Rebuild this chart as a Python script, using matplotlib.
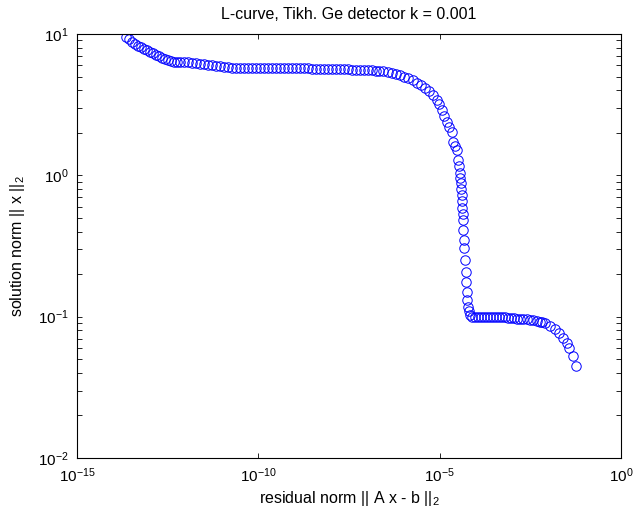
import numpy as np
import matplotlib
matplotlib.use("Agg")
import matplotlib.pyplot as plt
from matplotlib.ticker import LogLocator, NullLocator, FixedLocator

plt.rcParams['font.family'] = ['Liberation Sans', 'DejaVu Sans']
plt.rcParams['mathtext.fontset'] = 'custom'
plt.rcParams['mathtext.rm'] = 'Liberation Sans'
plt.rcParams['mathtext.it'] = 'Liberation Sans:italic'

# L-curve points (log10 of residual norm / solution norm)
log_res = [
    -13.65, -13.57, -13.48, -13.40, -13.32, -13.24, -13.15, -13.07, -12.99, -12.90,
    -12.82, -12.74, -12.66, -12.57, -12.49, -12.41, -12.33, -12.24, -12.16, -12.05,
    -11.94, -11.83, -11.72, -11.61, -11.50, -11.39, -11.28, -11.17, -11.06, -10.95,
    -10.84, -10.73,
    -10.62, -10.51, -10.40, -10.29, -10.18, -10.07, -9.96, -9.85, -9.74, -9.63,
    -9.52, -9.41, -9.30, -9.19, -9.08, -8.97, -8.86, -8.75, -8.64, -8.53,
    -8.42, -8.31, -8.20, -8.09, -7.98, -7.87, -7.76, -7.65, -7.54, -7.43,
    -7.32, -7.21, -7.10, -6.99, -6.88, -6.77, -6.66, -6.55,
    -6.43, -6.32, -6.21, -6.10, -5.98, -5.87, -5.74, -5.63, -5.52, -5.41,
    -5.30, -5.19, -5.08, -5.02, -4.95, -4.88, -4.81, -4.74, -4.67, -4.63,
    -4.58, -4.53, -4.49, -4.47, -4.44, -4.43, -4.41, -4.40, -4.39, -4.39,
    -4.39, -4.37, -4.37, -4.35, -4.33, -4.32, -4.30, -4.28, -4.27, -4.26,
    -4.24, -4.22, -4.19, -4.17, -4.11,
    -4.03, -3.94, -3.86, -3.78, -3.70, -3.61, -3.53, -3.45, -3.37, -3.28,
    -3.20, -3.12, -3.03, -2.95, -2.87, -2.79, -2.70, -2.60, -2.51, -2.43,
    -2.33, -2.24, -2.17, -2.10, -1.96, -1.82, -1.70, -1.59, -1.50, -1.43,
    -1.33, -1.24,
]
log_sol = [
    0.982, 0.968, 0.944, 0.930, 0.916, 0.905, 0.895, 0.884, 0.873, 0.863,
    0.852, 0.841, 0.831, 0.820, 0.813, 0.806, 0.803, 0.803, 0.803, 0.799,
    0.799, 0.795, 0.792, 0.788, 0.785, 0.781, 0.778, 0.774, 0.771, 0.767,
    0.764, 0.760,
    0.759, 0.759, 0.759, 0.759, 0.759, 0.759, 0.759, 0.759, 0.759, 0.759,
    0.759, 0.759, 0.759, 0.759, 0.759, 0.759, 0.758, 0.757, 0.757, 0.756,
    0.756, 0.755, 0.754, 0.753, 0.753, 0.752, 0.751, 0.750, 0.749, 0.748,
    0.747, 0.746, 0.745, 0.743, 0.742, 0.740, 0.738, 0.736,
    0.728, 0.721, 0.714, 0.707, 0.696, 0.686, 0.672, 0.654, 0.636, 0.618,
    0.597, 0.569, 0.534, 0.505, 0.463, 0.420, 0.380, 0.343, 0.307, 0.238,
    0.208, 0.180, 0.109, 0.066, 0.017, -0.018, -0.054, -0.096, -0.139, -0.181,
    -0.231, -0.273, -0.316, -0.386, -0.457, -0.514, -0.599, -0.682, -0.752, -0.823,
    -0.882, -0.929, -0.960, -0.988, -1.000,
    -1.002, -1.002, -1.002, -1.002, -1.002, -1.002, -1.002, -1.002, -1.002, -1.002,
    -1.002, -1.006, -1.009, -1.009, -1.013, -1.013, -1.016, -1.016, -1.020, -1.023,
    -1.030, -1.035, -1.041, -1.047, -1.066, -1.089, -1.117, -1.153, -1.184, -1.224,
    -1.278, -1.349,
]

res_norm = 10.0 ** np.array(log_res)
sol_norm = 10.0 ** np.array(log_sol)

fig = plt.figure(figsize=(6.35, 5.17), dpi=100)
ax = fig.add_axes([0.1213, 0.1141, 0.8567, 0.8201])
ax.loglog(res_norm, sol_norm, 'o', color='#0000ff', mfc='none', ms=6.8, mew=0.7)

ax.set_xlim(1e-15, 1e0)
ax.set_ylim(1e-2, 1e1)
ax.xaxis.set_major_locator(FixedLocator([1e-15, 1e-10, 1e-5, 1e0]))
ax.xaxis.set_minor_locator(NullLocator())
ax.yaxis.set_major_locator(LogLocator(base=10))
ax.yaxis.set_minor_locator(LogLocator(base=10, subs=np.arange(2, 10)))
ax.tick_params(which='both', direction='in', top=True, right=True,
               length=3.6, width=0.6, labelsize=11, pad=6)
for s in ax.spines.values():
    s.set_linewidth(0.8)

ax.set_title('L-curve, Tikh. Ge detector k = 0.001', fontsize=11.5, pad=11)
ax.set_xlabel(r'residual norm || A x - b ||$\mathregular{_2}$', fontsize=11.5, labelpad=3)
ax.set_ylabel(r'solution norm || x ||$\mathregular{_2}$', fontsize=11.5, labelpad=8)

fig.savefig('out.png', dpi=100)
